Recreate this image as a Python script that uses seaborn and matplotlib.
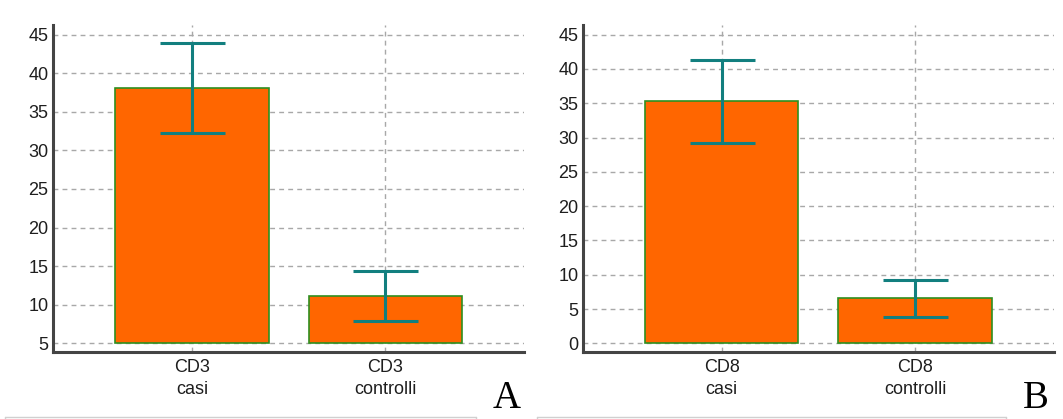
import matplotlib
matplotlib.use("Agg")
import matplotlib.pyplot as plt
import seaborn as sns
import pandas as pd
from matplotlib.lines import Line2D

# ---- data ----
cats_A = ["CD3\ncasi", "CD3\ncontrolli"]
means_A = [38.1, 11.1]
errs_A = [5.85, 3.25]
yticks_A = [5, 10, 15, 20, 25, 30, 35, 40, 45]

cats_B = ["CD8\ncasi", "CD8\ncontrolli"]
means_B = [35.25, 6.6]
errs_B = [6.05, 2.7]
yticks_B = [0, 5, 10, 15, 20, 25, 30, 35, 40, 45]

panel_labels = ["A", "B"]

# ---- style ----
sns.set_style("white")
plt.rcParams["font.family"] = ["Liberation Sans", "DejaVu Sans"]

BAR = "#ff6600"
EDGE = "#2f8f1f"
ERR = "#127f7f"
AXC = "#444444"
TXT = "#1e1e1e"

W, H, DPI = 1063, 419, 100
fig = plt.figure(figsize=(W / DPI, H / DPI), dpi=DPI)


def fx(px):
    return px / W


def fy(py):
    return 1 - py / H


ax_A = fig.add_axes([fx(53.3), fy(352.3), fx(524.3 - 53.3), (352.3 - 25) / H])
ax_B = fig.add_axes([fx(583.3), fy(352.3), fx(1054 - 583.3), (352.3 - 25) / H])

panels = [
    (ax_A, cats_A, means_A, errs_A, yticks_A, (3.83, 46.26), 5),
    (ax_B, cats_B, means_B, errs_B, yticks_B, (-1.31, 46.4), 0),
]

for ax, cats, means, errs, yt, ylim, base in panels:
    df = pd.DataFrame({"cat": cats, "val": means})
    sns.barplot(data=df, x="cat", y="val", ax=ax, color=BAR, saturation=1,
                edgecolor=EDGE, linewidth=1.2, width=0.793, errorbar=None)
    # bars start at the lowest gridline
    for p in ax.patches:
        top = p.get_y() + p.get_height()
        p.set_y(base)
        p.set_height(top - base)
    ax.errorbar(x=list(range(len(cats))), y=means, yerr=errs, fmt="none",
                ecolor=ERR, elinewidth=2.2, capsize=23.4, capthick=2.2, zorder=5)
    ax.set_xlim(-0.716, 1.718)
    ax.set_ylim(*ylim)
    ax.set_yticks(yt)
    ax.set_xlabel("")
    ax.set_ylabel("")
    ax.set_axisbelow(True)
    ax.grid(True, axis="both", color="#a8a8a8", linestyle=(0, (3.5, 3)), linewidth=1.0)
    for s in ["top", "right"]:
        ax.spines[s].set_visible(False)
    for s in ["left", "bottom"]:
        ax.spines[s].set_color(AXC)
        ax.spines[s].set_linewidth(2.2)
    ax.tick_params(axis="both", direction="in", length=5.8, width=1.1, color=AXC,
                   labelsize=13, labelcolor=TXT)
    ax.tick_params(axis="y", pad=3.5)
    ax.tick_params(axis="x", pad=5)
    for lab in ax.get_xticklabels():
        lab.set_linespacing(1.4)

# panel letters
fig.text(fx(506.7), fy(408), panel_labels[0], ha="center", va="baseline",
         family=["Liberation Serif", "DejaVu Serif"], fontsize=28, color="#000000")
fig.text(fx(1036), fy(408), panel_labels[1], ha="center", va="baseline",
         family=["Liberation Serif", "DejaVu Serif"], fontsize=28, color="#000000")

# faint frame edges at the bottom
for x0, x1 in [(5, 476), (537, 1006)]:
    fig.add_artist(Line2D([fx(x0), fx(x1)], [fy(416.5), fy(416.5)],
                          transform=fig.transFigure, color="#d0d0d0", linewidth=1.0))
    for xx in (x0, x1):
        fig.add_artist(Line2D([fx(xx), fx(xx)], [fy(416.5), 0],
                              transform=fig.transFigure, color="#d0d0d0", linewidth=1.0))

fig.savefig("out.png", dpi=DPI)
